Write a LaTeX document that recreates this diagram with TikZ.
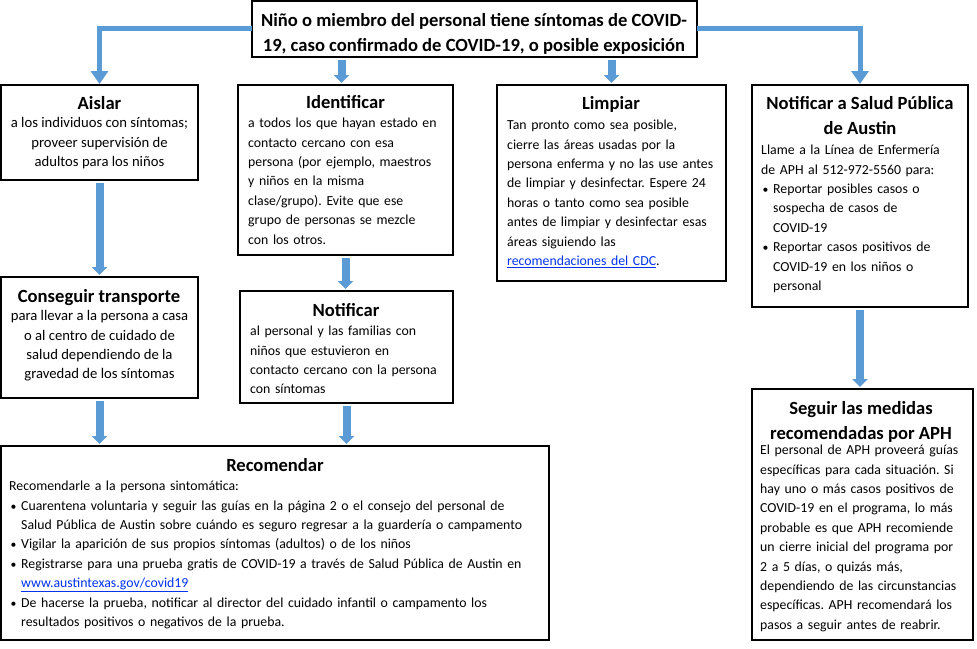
\documentclass[tikz,border=0pt]{standalone}
\usepackage{fontspec}
\usepackage{graphicx}
\setmainfont{Carlito}
\usetikzlibrary{arrows.meta}
\definecolor{arrowblue}{HTML}{5B9BD5}
\definecolor{linkblue}{HTML}{0033EE}
\newcommand{\lnk}[1]{\textcolor{linkblue}{\underline{#1}}}
\newcommand{\itm}[2]{\unskip\strut\par\prevdepth=\dp\strutbox\noindent\makebox[12pt][l]{\hspace{1.5pt}\scalebox{0.85}{\textbullet}}\parbox[t]{#1}{\raggedright\strut #2\strut}}
\frenchspacing
\tikzset{
  box/.style={draw, line width=1.1pt, anchor=north west, inner sep=0pt, outer sep=0pt},
  ttl/.style={anchor=north, inner sep=0pt, align=center, font=\fontsize{18.6}{24.5}\selectfont\bfseries},
  bodyc/.style={anchor=north, inner sep=0pt, align=center, font=\fontsize{14.67}{19.4}\selectfont},
  bodyl/.style={anchor=north west, inner sep=0pt, text width=#1, align=left, font=\fontsize{13.8}{19.4}\selectfont, execute at begin node={\setlength{\parindent}{0pt}\frenchspacing}},
  elbow/.style={draw=arrowblue, line width=5pt, -{Triangle[width=17pt,length=13pt]}, shorten >=1pt},
  blk/.style={draw=arrowblue, line width=8pt, -{Triangle[width=15pt,length=8pt]}, shorten <=3pt, shorten >=2pt},
}
\begin{document}
\begin{tikzpicture}[x=1pt,y=-1pt]
\fill[white] (0,0) rectangle (977,648);
\useasboundingbox (0,0) rectangle (977,648);

% boxes
\node[box, minimum width=445pt, minimum height=56pt] (top) at (252,1) {};
\node[box, minimum width=197pt, minimum height=95pt] (aislar) at (1,85) {};
\node[box, minimum width=215pt, minimum height=170pt] (ident) at (238,85) {};
\node[box, minimum width=229pt, minimum height=196pt] (limpiar) at (497,85) {};
\node[box, minimum width=216pt, minimum height=222pt] (salud) at (752,85) {};
\node[box, minimum width=197pt, minimum height=121pt] (conseguir) at (1,277) {};
\node[box, minimum width=213pt, minimum height=112pt] (notif) at (240,291) {};
\node[box, minimum width=548pt, minimum height=194pt] (recom) at (1,446) {};
\node[box, minimum width=221pt, minimum height=251pt] (seguir) at (752,389) {};

% texts
\node[ttl] (ttop) at (474,9.4) {\strut Niño o miembro del personal tiene síntomas de COVID-\\19, caso confirmado de COVID-19, o posible exposición};

\node[ttl] (tais) at (99.5,92.4) {\strut Aislar};
\node[bodyc] (bais) at (99.5,114) {\strut a los individuos con síntomas;\\proveer supervisión de\\adultos para los niños};

\node[ttl] (tide) at (345.5,91.4) {\strut Identificar};
\node[bodyl=205pt] (bide) at (248,114) {\strut a todos los que hayan estado en\\contacto cercano con esa\\persona (por ejemplo, maestros\\y niños en la misma\\clase/grupo). Evite que ese\\grupo de personas se mezcle\\con los otros.};

\node[ttl] (tlim) at (611,92.4) {\strut Limpiar};
\node[bodyl=218pt] (blim) at (507,116) {\strut Tan pronto como sea posible,\\cierre las áreas usadas por la\\persona enferma y no las use antes\\de limpiar y desinfectar. Espere 24\\horas o tanto como sea posible\\antes de limpiar y desinfectar esas\\áreas siguiendo las\\\lnk{recomendaciones del CDC}.};

\node[ttl] (tsal) at (860,92.4) {\strut Notificar a Salud Pública\\de Austin};
\node[bodyl=210pt] (bsal) at (761,141) {\strut Llame a la Línea de Enfermería\newline de APH al 512-972-5560 para:
\itm{190pt}{Reportar posibles casos o\\sospecha de casos de\\COVID-19}
\itm{190pt}{Reportar casos positivos de\\COVID-19 en los niños o\\personal}};

\node[ttl] (tcon) at (99,285.4) {\strut Conseguir transporte};
\node[bodyc] (bcon) at (99.5,307) {\strut para llevar a la persona a casa\\o al centro de cuidado de\\salud dependiendo de la\\gravedad de los síntomas};

\node[ttl] (tnot) at (346,299.4) {\strut Notificar};
\node[bodyl=205pt] (bnot) at (250,322) {\strut al personal y las familias con\\niños que estuvieron en\\contacto cercano con la persona\\con síntomas};

\node[ttl] (trec) at (275,454.4) {\strut Recomendar};
\node[bodyl=545pt] (brec) at (9,477) {\strut Recomendarle a la persona sintomática:
\itm{525pt}{Cuarentena voluntaria y seguir las guías en la página 2 o el consejo del personal de\\Salud Pública de Austin sobre cuándo es seguro regresar a la guardería o campamento}
\itm{525pt}{Vigilar la aparición de sus propios síntomas (adultos) o de los niños}
\itm{525pt}{Registrarse para una prueba gratis de COVID-19 a través de Salud Pública de Austin en\\\lnk{www.austintexas.gov/covid19}}
\itm{525pt}{De hacerse la prueba, notificar al director del cuidado infantil o campamento los\\resultados positivos o negativos de la prueba.}};

\node[ttl] (tseg) at (861,397.4) {\strut Seguir las medidas\\recomendadas por APH};
\node[bodyl=215pt] (bseg) at (760,441) {\strut El personal de APH proveerá guías\\específicas para cada situación. Si\\hay uno o más casos positivos de\\COVID-19 en el programa, lo más\\probable es que APH recomiende\\un cierre inicial del programa por\\2 a 5 días, o quizás más,\\dependiendo de las circunstancias\\específicas. APH recomendará los\\pasos a seguir antes de reabrir.};

% connectors
\draw[elbow] ([yshift=1pt]top.west) -| (aislar.north);
\draw[elbow] ([yshift=1pt]top.east) -| (salud.north);
\coordinate (ia) at ([xshift=-4pt]ident.north);
\draw[blk] (ia |- top.south) -- (ia);
\draw[blk] (limpiar.north |- top.south) -- (limpiar.north);
\draw[blk] (aislar.south) -- (conseguir.north);
\draw[blk] (ident.south) -- (ident.south |- notif.north);
\draw[blk] (conseguir.south) -- (conseguir.south |- recom.north);
\draw[blk] (notif.south) -- (notif.south |- recom.north);
\draw[blk] (salud.south) -- (salud.south |- seguir.north);
\end{tikzpicture}
\end{document}
